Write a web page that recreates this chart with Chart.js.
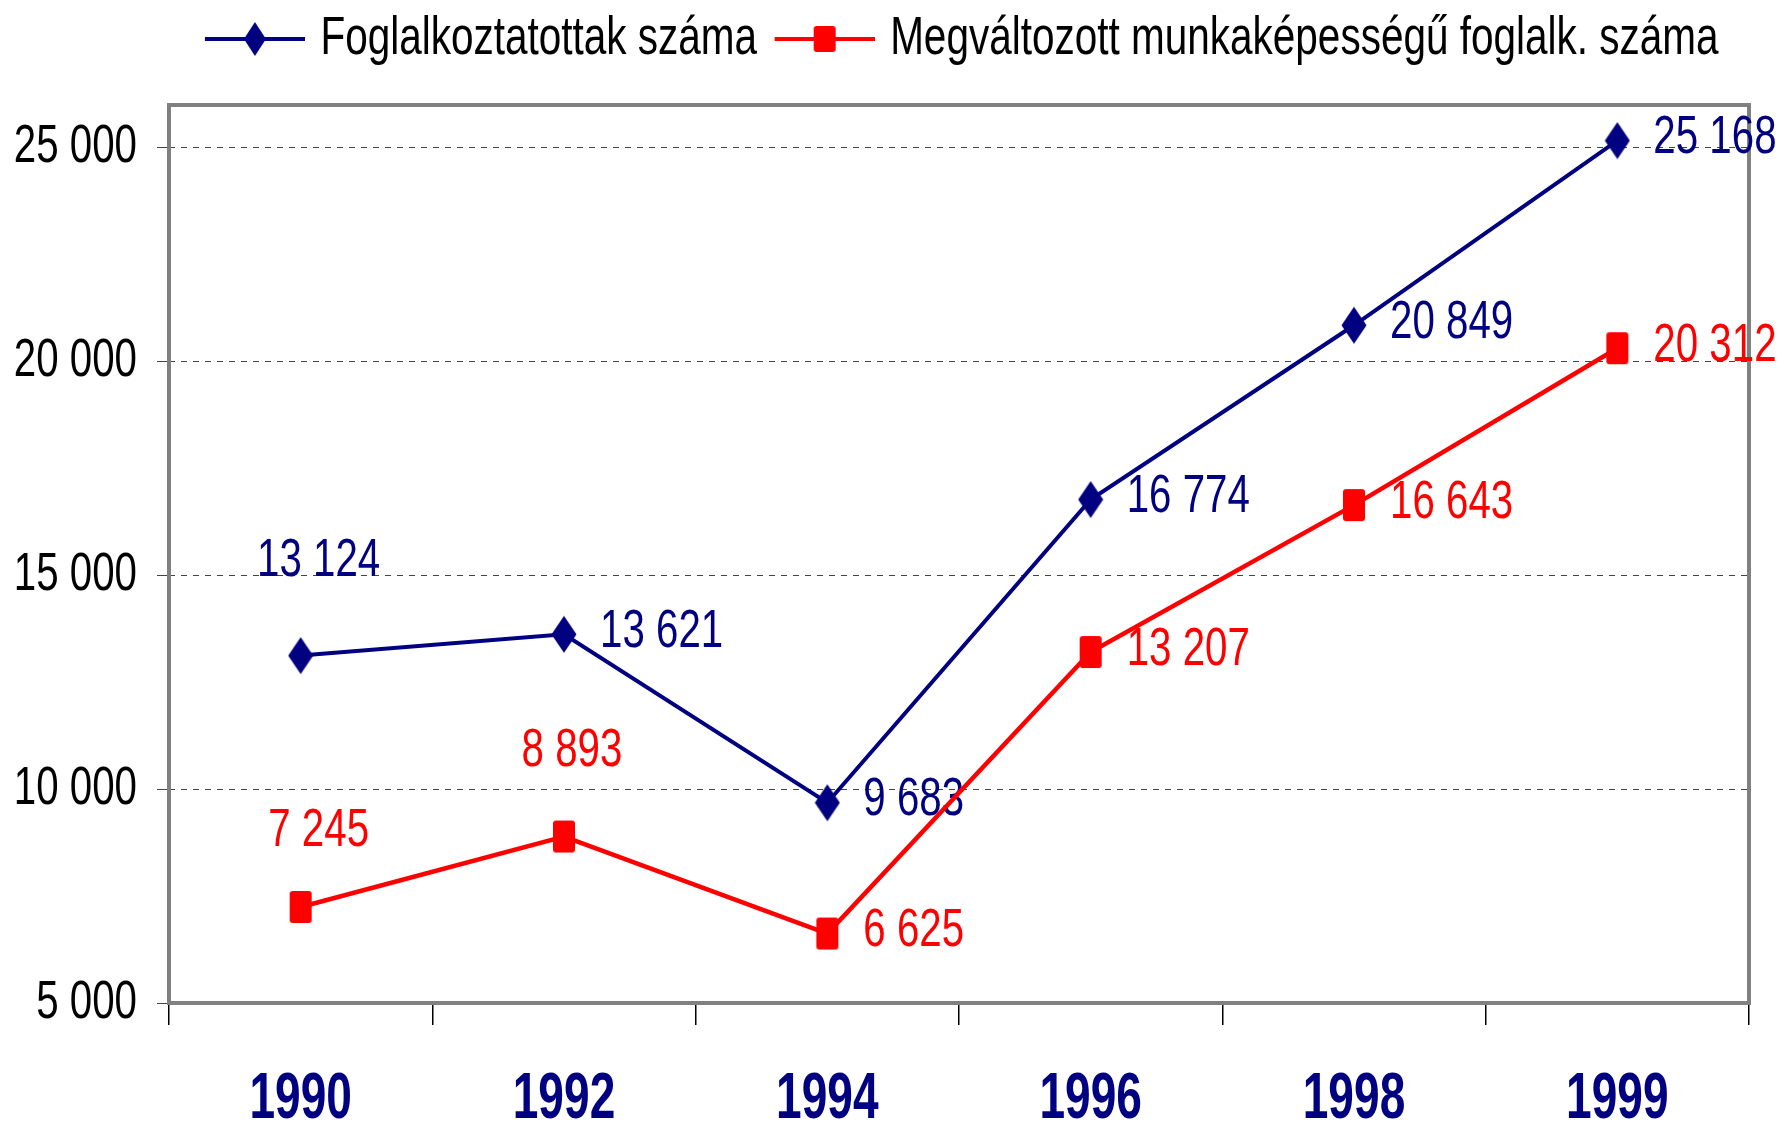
<!DOCTYPE html>
<html>
<head>
<meta charset="utf-8">
<script src="https://cdn.jsdelivr.net/npm/chart.js@4.4.1/dist/chart.umd.min.js"></script>
<style>
html, body { margin: 0; padding: 0; background: #fff; }
#wrap { width: 1784px; height: 1125px; }
</style>
</head>
<body>
<div id="wrap"><canvas id="grafikon"></canvas></div>
<script>
// adatok
const evek = ['1990', '1992', '1994', '1996', '1998', '1999'];
const foglalkoztatottak = [13124, 13621, 9683, 16774, 20849, 25168];
const megvaltozott = [7245, 8893, 6625, 13207, 16643, 20312];
const yTickek = [5000, 10000, 15000, 20000, 25000];
const sorozatNevek = ['Foglalkoztatottak száma', 'Megváltozott munkaképességű foglalk. száma'];

const KEK = '#000080';
const PIROS = '#ff0000';
const BETU = "'Liberation Sans', Arial, sans-serif";

// az eredeti abra keskeny (narrow) betuvel keszult, ezt vizszintes szukitessel kozelitjuk
// betumeret (px) -> szukites
const betuSzukites = { 54: 0.75, 53: 0.76, 64: 0.72 };

const vaszon = document.getElementById('grafikon');
const vctx = vaszon.getContext('2d');
const eredetiFill = vctx.fillText;
const eredetiMeres = vctx.measureText;

function szukites(ctx) {
    const m = /(\d+(?:\.\d+)?)px/.exec(ctx.font);
    return (m && betuSzukites[m[1]]) || 1;
}

vctx.fillText = function (t, x, y, maxW) {
    const k = szukites(this);
    this.save();
    this.translate(x, y);
    this.scale(k, 1);
    if (maxW === undefined) eredetiFill.call(this, t, 0, 0);
    else eredetiFill.call(this, t, 0, 0, maxW / k);
    this.restore();
};

vctx.measureText = function (t) {
    const m = eredetiMeres.call(this, t);
    const k = szukites(this);
    return {
        width: m.width * k,
        actualBoundingBoxLeft: m.actualBoundingBoxLeft * k,
        actualBoundingBoxRight: m.actualBoundingBoxRight * k,
        actualBoundingBoxAscent: m.actualBoundingBoxAscent,
        actualBoundingBoxDescent: m.actualBoundingBoxDescent,
        fontBoundingBoxAscent: m.fontBoundingBoxAscent,
        fontBoundingBoxDescent: m.fontBoundingBoxDescent
    };
};

function szamForma(v) {
    return String(v).replace(/\B(?=(\d{3})+(?!\d))/g, ' ');
}

function rombusz(ctx, cx, cy, w, h) {
    ctx.beginPath();
    ctx.moveTo(cx, cy - h / 2);
    ctx.lineTo(cx + w / 2, cy);
    ctx.lineTo(cx, cy + h / 2);
    ctx.lineTo(cx - w / 2, cy);
    ctx.closePath();
    ctx.fill();
}

function teglalap(ctx, cx, cy, w, h) {
    ctx.beginPath();
    ctx.roundRect(cx - w / 2, cy - h / 2, w, h, 3);
    ctx.fill();
}

// jelolok (pontok)
function jelolo(tipus, szin) {
    let c = document.createElement('canvas');
    c.width = 26;
    c.height = 38;
    let ctx = c.getContext('2d');
    ctx.fillStyle = szin;
    if (tipus == 'rombusz') rombusz(ctx, 13, 19, 25, 37);
    else teglalap(ctx, 13, 19, 22, 32);
    return c;
}

// jelmagyarazat ikon: vonal + jelolo
function legendIkon(tipus, szin) {
    let c = document.createElement('canvas');
    c.width = 117;
    c.height = 40;
    let ctx = c.getContext('2d');
    ctx.strokeStyle = szin;
    ctx.lineWidth = 4;
    ctx.beginPath();
    ctx.moveTo(17, 20);
    ctx.lineTo(117, 20);
    ctx.stroke();
    ctx.fillStyle = szin;
    if (tipus == 'rombusz') rombusz(ctx, 67, 20, 22, 34);
    else teglalap(ctx, 67, 20, 22, 26);
    return c;
}

const legendIkonok = [legendIkon('rombusz', KEK), legendIkon('teglalap', PIROS)];

const keretRajz = {
    id: 'keretRajz',
    beforeDatasetsDraw(chart) {
        const a = chart.chartArea;
        const ctx = chart.ctx;
        ctx.save();
        ctx.strokeStyle = '#808080';
        ctx.lineWidth = 4;
        ctx.strokeRect(a.left, a.top, a.right - a.left, a.bottom - a.top);
        ctx.restore();
    }
};

const legendTer = {
    id: 'legendTer',
    beforeLayout(chart) {
        const lg = chart.legend;
        if (lg && !lg._toldva) {
            const eredeti = lg.fit.bind(lg);
            lg.fit = function () {
                eredeti();
                this.height += 29;
            };
            lg._toldva = true;
        }
    }
};

// ertekcimkek - a vonalak ala rajzolva, mint az eredetin
const ertekCimkek = {
    id: 'ertekCimkek',
    beforeDatasetsDraw(chart) {
        const ctx = chart.ctx;
        ctx.save();
        ctx.font = '53px ' + BETU;
        ctx.textBaseline = 'middle';
        chart.data.datasets.forEach((ds, di) => {
            const meta = chart.getDatasetMeta(di);
            meta.data.forEach((pt, i) => {
                const szoveg = szamForma(ds.data[i]);
                ctx.fillStyle = ds.borderColor;
                if (di == 0 && i == 0) {
                    ctx.textAlign = 'center';
                    ctx.fillText(szoveg, pt.x + 18, pt.y - 94);
                } else if (di == 1 && i == 0) {
                    ctx.textAlign = 'center';
                    ctx.fillText(szoveg, pt.x + 18, pt.y - 76);
                } else if (di == 1 && i == 1) {
                    ctx.textAlign = 'center';
                    ctx.fillText(szoveg, pt.x + 8, pt.y - 85);
                } else {
                    ctx.textAlign = 'left';
                    ctx.fillText(szoveg, pt.x + 36, pt.y - 2);
                }
            });
        });
        ctx.restore();
    }
};

let grafikon = new Chart(vaszon, {
    type: 'line',
    data: {
        labels: evek,
        datasets: [{
            label: sorozatNevek[0],
            data: foglalkoztatottak,
            borderColor: KEK,
            backgroundColor: KEK,
            borderWidth: 4,
            pointStyle: jelolo('rombusz', KEK),
            pointRadius: 13,
            tension: 0
        }, {
            label: sorozatNevek[1],
            data: megvaltozott,
            borderColor: PIROS,
            backgroundColor: PIROS,
            borderWidth: 4.5,
            pointStyle: jelolo('teglalap', PIROS),
            pointRadius: 13,
            tension: 0
        }]
    },
    options: {
        responsive: true,
        maintainAspectRatio: false,
        animation: false,
        layout: { padding: { top: 0, right: 35, bottom: 0, left: 0 } },
        plugins: {
            tooltip: { enabled: false },
            legend: {
                position: 'top',
                fullSize: false,
                labels: {
                    usePointStyle: true,
                    pointStyleWidth: 94,
                    padding: 12,
                    color: '#000',
                    font: { family: BETU, size: 54 },
                    generateLabels: chart => chart.data.datasets.map((ds, i) => ({
                        text: ds.label,
                        pointStyle: legendIkonok[i],
                        fillStyle: ds.borderColor,
                        strokeStyle: ds.borderColor,
                        lineWidth: 0,
                        hidden: false,
                        datasetIndex: i,
                        fontColor: '#000'
                    }))
                }
            }
        },
        scales: {
            x: {
                offset: true,
                afterFit: s => { s.height = 122; },
                grid: { offset: true, drawOnChartArea: false, tickLength: 22, color: '#000', lineWidth: 1.5 },
                border: { display: false },
                ticks: {
                    color: KEK,
                    padding: 37,
                    font: { family: BETU, size: 64, weight: 'bold' }
                }
            },
            y: {
                min: 5000,
                max: 26000,
                afterBuildTicks: s => { s.ticks = yTickek.map(v => ({ value: v })); },
                afterFit: s => { s.width = 169; },
                border: { display: false, dash: [6, 6] },
                grid: { color: '#444', lineWidth: 1, tickLength: 12, tickBorderDash: [] },
                ticks: {
                    color: '#000',
                    padding: 20,
                    font: { family: BETU, size: 53 },
                    callback: v => szamForma(v)
                }
            }
        }
    },
    plugins: [keretRajz, legendTer, ertekCimkek]
});
</script>
</body>
</html>
